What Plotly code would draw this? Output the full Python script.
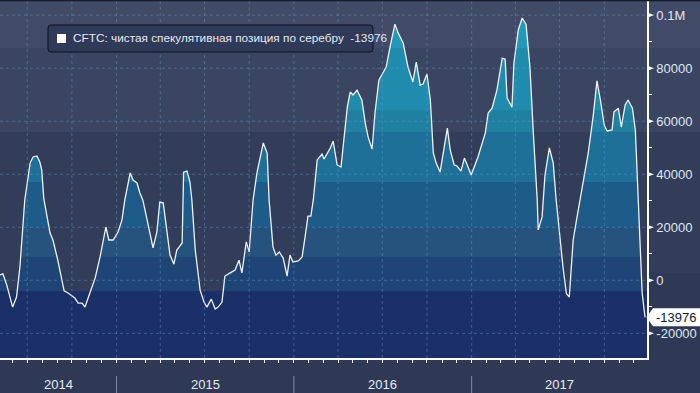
import pandas as pd
import plotly.graph_objects as go

# ---------------- data ----------------
dates = [
    "2014-05-06", "2014-05-12", "2014-05-20", "2014-06-01", "2014-06-09", "2014-06-16", "2014-06-26",
    "2014-07-01", "2014-07-07", "2014-07-13", "2014-07-21", "2014-07-27", "2014-07-31", "2014-08-04",
    "2014-08-10", "2014-08-17", "2014-08-23", "2014-09-02", "2014-09-15", "2014-09-23", "2014-10-07",
    "2014-10-14", "2014-10-22", "2014-10-28", "2014-11-07", "2014-11-18", "2014-11-28", "2014-12-10",
    "2014-12-16", "2014-12-25", "2015-01-04", "2015-01-12", "2015-01-18", "2015-01-29", "2015-02-04",
    "2015-02-12", "2015-02-18", "2015-02-24", "2015-03-05", "2015-03-17", "2015-03-25", "2015-03-31",
    "2015-04-07", "2015-04-15", "2015-04-21", "2015-04-29", "2015-05-05", "2015-05-16", "2015-05-19",
    "2015-05-26", "2015-06-01", "2015-06-05", "2015-06-12", "2015-06-22", "2015-06-30", "2015-07-06",
    "2015-07-15", "2015-07-23", "2015-07-29", "2015-08-06", "2015-08-12", "2015-08-23", "2015-09-02",
    "2015-09-10", "2015-09-16", "2015-09-25", "2015-10-01", "2015-10-09", "2015-10-17", "2015-10-30",
    "2015-11-07", "2015-11-11", "2015-11-19", "2015-11-25", "2015-12-02", "2015-12-10", "2015-12-18",
    "2015-12-24", "2015-12-30", "2016-01-10", "2016-01-18", "2016-01-24", "2016-01-30", "2016-02-05",
    "2016-02-10", "2016-02-18", "2016-02-28", "2016-03-03", "2016-03-16", "2016-03-22", "2016-03-30",
    "2016-04-07", "2016-04-20", "2016-04-26", "2016-05-02", "2016-05-10", "2016-05-20", "2016-05-27",
    "2016-06-02", "2016-06-10", "2016-06-16", "2016-06-24", "2016-07-03", "2016-07-09", "2016-07-17",
    "2016-07-27", "2016-08-03", "2016-08-13", "2016-08-23", "2016-09-02", "2016-09-09", "2016-09-17",
    "2016-09-23", "2016-10-01", "2016-10-08", "2016-10-14", "2016-10-20", "2016-10-28", "2016-11-12",
    "2016-11-18", "2016-11-26", "2016-12-02", "2016-12-10", "2016-12-17", "2016-12-23", "2016-12-31",
    "2017-01-14", "2017-01-29", "2017-02-04", "2017-02-12", "2017-02-22", "2017-03-05", "2017-03-11",
    "2017-03-15", "2017-03-25", "2017-03-29", "2017-04-07", "2017-04-15", "2017-04-23", "2017-05-01",
    "2017-05-08", "2017-05-16", "2017-05-18", "2017-05-26", "2017-06-01", "2017-06-10", "2017-06-18",
    "2017-06-24", "2017-07-08", "2017-07-15", "2017-07-21", "2017-07-29", "2017-08-06", "2017-08-12",
    "2017-08-19", "2017-08-29", "2017-09-08", "2017-09-16", "2017-09-23", "2017-10-01", "2017-10-07",
    "2017-10-17", "2017-10-21", "2017-10-30", "2017-11-05", "2017-11-13", "2017-11-19", "2017-11-28",
    "2017-12-04", "2017-12-14", "2017-12-18", "2017-12-24",
]
values = [
    2000, 2400, -1800, -10100, -6300, 5000, 30300,
    35900, 44200, 46500, 46900, 44600, 41600, 31000,
    25400, 17800, 15200, 7600, -4000, -4800, -6700,
    -8600, -8600, -10100, -4800, 900, 8800, 20100,
    15200, 15200, 18200, 22700, 30300, 40500, 37800,
    36700, 32900, 30300, 22700, 12200, 18200, 29500,
    29200, 17800, 9500, 6100, 11400, 14100, 40800,
    41200, 37100, 30300, 11400, -3700, -8200, -10100,
    -7100, -10800, -10100, -8200, 1600, 2800, 3900,
    7600, 2800, 14500, 10700, 30300, 40500, 51800,
    48000, 30300, 12600, 9500, 10700, 8400, 1600,
    9500, 6900, 7300, 8800, 16300, 24200, 24200,
    30300, 45400, 47600, 45700, 49900, 52500, 43500,
    42700, 65300, 71000, 69900, 71700, 68000, 59300,
    54000, 49500, 63100, 75500, 78500, 80400, 88000,
    96600, 93200, 89500, 80400, 74800, 82300, 73600,
    74000, 77800, 68000, 48000, 44200, 40800, 57400,
    49100, 43500, 43100, 41200, 46100, 43500, 39700,
    46500, 55500, 63100, 64900, 71700, 83800, 83400,
    68700, 65300, 81900, 94400, 98900, 96600, 80400,
    55500, 30300, 19000, 23900, 39700, 49900, 44200,
    30300, 5000, -5000, -6300, 15200, 23900, 30300,
    37800, 48000, 61600, 75200, 68000, 58500, 56300,
    56700, 63500, 64900, 57800, 66100, 68000, 64900,
    56700, 8800, -4800, -13976,
]
series_name = "CFTC: чистая спекулятивная позиция по серебру"
years = [2014, 2015, 2016, 2017]
y_ticks = [-20000, 0, 20000, 40000, 60000, 80000, 100000]
y_tick_text = ["-20000", "0", "20000", "40000", "60000", "80000", "0.1M"]
y_minor = [-10000, 10000, 30000, 50000, 70000, 90000]

# ---------------- geometry / style ----------------
W, H = 700, 393
ML, MR, MT, MB = 0, 53, 0, 35
PW, PH = W - ML - MR, H - MT - MB
Y0, Y1 = -29300, 105700
X0, X1 = "2014-05-06", "2017-12-28"
FONT = "Liberation Sans"


def fx(px):
    return (px - ML) / PW


def fy(py):
    return (H - MB - py) / PH


# fill bands (pixel boundaries, bottom -> top) and colours
band_px = [291, 257, 227, 182, 132, 110, 48]
band_col = ["#1b2f69", "#1f4577", "#26527e", "#1d5b88", "#1e7098", "#1f80a2", "#1f8cad", "#2398b8"]
cs = []
lo = 0.0
for i, c in enumerate(band_col):
    hi = fy(band_px[i]) if i < len(band_px) else 1.0
    cs.append([lo, c])
    cs.append([hi, c])
    lo = hi

fig = go.Figure()
fig.add_trace(go.Scatter(
    x=dates, y=[Y0 - 20000] * len(dates), mode="lines", line=dict(width=0),
    hoverinfo="skip", showlegend=False))
fig.add_trace(go.Scatter(
    x=dates, y=values, mode="lines", fill="tonexty",
    fillgradient=dict(type="vertical", colorscale=cs, start=Y0, stop=Y1),
    line=dict(color="#eef2f8", width=1.3), showlegend=False, name=series_name))

shapes = []
# page background bands
for (a, b, c) in [(0, 48, "#414b68"), (48, 132, "#3a4562"), (132, 273, "#323d5a")]:
    shapes.append(dict(type="rect", xref="paper", yref="paper", x0=fx(0), x1=fx(W),
                       y0=fy(b), y1=fy(a), fillcolor=c, line=dict(width=0), layer="below"))
# in-plot lower bands
shapes.append(dict(type="rect", xref="paper", yref="paper", x0=0, x1=1, y0=fy(291), y1=fy(273),
                   fillcolor="#323d5a", line=dict(width=0), layer="below"))
shapes.append(dict(type="rect", xref="paper", yref="paper", x0=0, x1=1, y0=0, y1=fy(291),
                   fillcolor="#1b2f69", line=dict(width=0), layer="below"))

grid = dict(color="rgba(105,160,205,0.42)", width=1, dash="3px,3px")
for v in y_ticks:
    shapes.append(dict(type="line", xref="paper", yref="y", x0=0, x1=1, y0=v, y1=v,
                       line=grid, layer="above"))
for d in pd.date_range("2014-07-01", "2017-10-01", freq="QS"):
    shapes.append(dict(type="line", xref="x", yref="paper", x0=d, x1=d, y0=0, y1=1,
                       line=grid, layer="above"))

# thin dark strip along the very top
shapes.append(dict(type="rect", xref="paper", yref="paper", x0=fx(0), x1=fx(W), y0=fy(1.2), y1=fy(0),
                   fillcolor="#151b2b", line=dict(width=0), layer="above"))

# year separators under the axis
for yr in years[1:]:
    d = f"{yr}-01-01"
    shapes.append(dict(type="line", xref="x", yref="paper", x0=d, x1=d, y0=fy(H), y1=fy(376),
                       line=dict(color="#7f8ca4", width=1)))

# y tick triangles
tri_h = 2.6 * (Y1 - Y0) / PH
for v in y_ticks:
    shapes.append(dict(type="path", xref="paper", yref="y",
                       path=f"M {fx(PW)},{v - tri_h} L {fx(PW + 7)},{v} L {fx(PW)},{v + tri_h} Z",
                       fillcolor="white", line=dict(width=0), layer="above"))

# legend box (rounded)
lx0, lx1, ly0, ly1, r = 48, 373, 25, 52, 3
path = (f"M {fx(lx0 + r)},{fy(ly0)} L {fx(lx1 - r)},{fy(ly0)} Q {fx(lx1)},{fy(ly0)} {fx(lx1)},{fy(ly0 + r)} "
        f"L {fx(lx1)},{fy(ly1 - r)} Q {fx(lx1)},{fy(ly1)} {fx(lx1 - r)},{fy(ly1)} "
        f"L {fx(lx0 + r)},{fy(ly1)} Q {fx(lx0)},{fy(ly1)} {fx(lx0)},{fy(ly1 - r)} "
        f"L {fx(lx0)},{fy(ly0 + r)} Q {fx(lx0)},{fy(ly0)} {fx(lx0 + r)},{fy(ly0)} Z")
shapes.append(dict(type="path", xref="paper", yref="paper", path=path, fillcolor="#2e3a58",
                   line=dict(color="#0c111d", width=1), layer="above"))
shapes.append(dict(type="rect", xref="paper", yref="paper", x0=fx(57), x1=fx(66), y0=fy(43), y1=fy(34),
                   fillcolor="white", line=dict(width=0), layer="above"))

# last value tag
last_value = values[-1]
py_last = MT + (Y1 - last_value) / (Y1 - Y0) * PH
tp = (f"M {fx(PW - 0.5)},{fy(py_last)} L {fx(PW + 6)},{fy(py_last - 9)} L {fx(W)},{fy(py_last - 9)} "
      f"L {fx(W)},{fy(py_last + 9)} L {fx(PW + 6)},{fy(py_last + 9)} Z")
shapes.append(dict(type="path", xref="paper", yref="paper", path=tp, fillcolor="white",
                   line=dict(width=0), layer="above"))

annotations = []
x0ts, x1ts = pd.Timestamp(X0), pd.Timestamp(X1)
for yr in years:
    a = max(pd.Timestamp(f"{yr}-01-01"), x0ts)
    b = min(pd.Timestamp(f"{yr + 1}-01-01"), x1ts)
    mid = a + (b - a) / 2
    annotations.append(dict(x=mid, y=fy(384), xref="x", yref="paper", text=str(yr), showarrow=False,
                            xanchor="center", yanchor="middle",
                            font=dict(family=FONT, size=13, color="#e6ecf4")))
annotations.append(dict(x=fx(71), y=fy(38.5), xref="paper", yref="paper",
                        text=f"{series_name} \u00a0{last_value}", showarrow=False,
                        xanchor="left", yanchor="middle",
                        font=dict(family=FONT, size=11.8, color="#e4eaf2")))
annotations.append(dict(x=fx(676), y=fy(py_last), xref="paper", yref="paper",
                        text=f"{last_value}", showarrow=False, xanchor="center", yanchor="middle",
                        font=dict(family=FONT, size=13, color="#111a2c")))

fig.update_layout(
    width=W, height=H, margin=dict(l=ML, r=MR, t=MT, b=MB, pad=0),
    paper_bgcolor="#2e3a55", plot_bgcolor="rgba(0,0,0,0)",
    showlegend=False, shapes=shapes, annotations=annotations,
    xaxis=dict(type="date", range=[X0, X1], showgrid=False, zeroline=False,
               showline=True, linecolor="white", linewidth=1.5,
               ticks="outside", ticklen=3, tickcolor="white", tickwidth=1,
               dtick="M1", tick0="2014-06-01", showticklabels=False, layer="above traces",
               fixedrange=True),
    yaxis=dict(side="right", range=[Y0, Y1], showgrid=False, zeroline=False,
               showline=True, linecolor="white", linewidth=1.5,
               tickvals=y_ticks, ticktext=y_tick_text, ticks="",
               ticklabelstandoff=5,
               minor=dict(tickvals=y_minor, ticks="outside", ticklen=3, tickcolor="white", showgrid=False),
               tickfont=dict(family=FONT, size=13, color="#dfe7f1"), layer="above traces",
               fixedrange=True),
)

fig.write_html("out.html", config=dict(displayModeBar=False),
               post_script="document.body.style.margin='0px';document.body.style.overflow='hidden';")
